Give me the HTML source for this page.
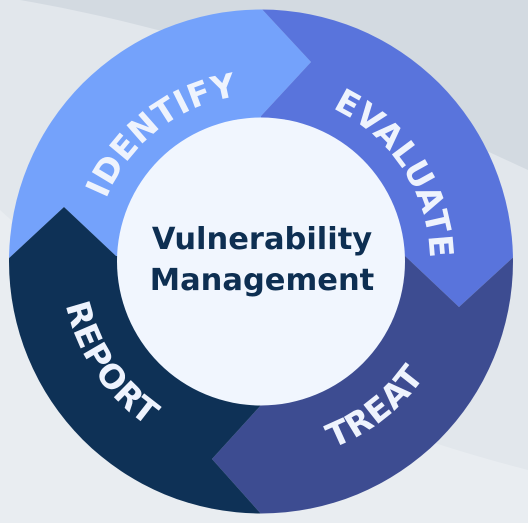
<!DOCTYPE html>
<html><head><meta charset="utf-8"><style>
html,body{margin:0;padding:0;width:528px;height:523px;overflow:hidden;background:#e2e7ec}
svg{display:block;position:absolute;left:0;top:0}
.seg{font-family:"DejaVu Sans","Liberation Sans",sans-serif;font-weight:bold;font-size:33px;fill:#eef3fd;letter-spacing:0.5px}
.ctr{font-family:"DejaVu Sans","Liberation Sans",sans-serif;font-weight:bold;font-size:30.5px;fill:#0e2f52}
</style></head><body>
<svg id="d" width="528" height="523" viewBox="0 0 528 523">
<rect width="528" height="523" fill="#e2e7ec"/>
<path d="M0,0 L528,0 L528,170 C420,120 250,40 20,0 Z" fill="#d3dae1"/>
<path d="M0,210 C120,320 330,420 528,470 L528,523 L0,523 Z" fill="#e9edf1"/>
<defs><clipPath id="oc"><circle cx="261" cy="261.5" r="252"/></clipPath></defs>
<g clip-path="url(#oc)">
<polygon fill="#74a2fb" points="207,-50 311,62 261,116 261,262 116,256 64,207 -50,313 -50,-50"/>
<polygon fill="#5974dc" points="207,-50 311,62 261,116 261,262 404,255 459,307 580,196 580,-50"/>
<polygon fill="#3d4c91" points="580,196 459,307 404,255 261,262 262,404 212,459 320,580 580,580"/>
<polygon fill="#0e3156" points="-50,313 64,207 116,256 261,262 262,404 212,459 320,580 -50,580"/>
</g>
<circle cx="261" cy="261.5" r="144" fill="#f1f6fe"/>
<defs id="pd"></defs>
<g id="labels"></g>
<text class="ctr" x="262" y="249" text-anchor="middle">Vulnerability</text>
<text class="ctr" x="262" y="290" text-anchor="middle">Management</text>
</svg>
<script>
const labels=["IDENTIFY","EVALUATE","TREAT","REPORT"];
const angles=[-128,-33,52,146];
const radii=[167,169,200,200];
const clockwise=[true,true,false,false];
const ns="http://www.w3.org/2000/svg",cx=261,cy=261.5;
const defs=document.getElementById('pd'),g=document.getElementById('labels');
function pt(r,a){a=a*Math.PI/180;return [cx+r*Math.cos(a),cy+r*Math.sin(a)];}
labels.forEach((t,i)=>{
  const r=radii[i],a=angles[i],cw=clockwise[i];
  const s=pt(r,cw?a-90:a+90),e=pt(r,cw?a+90:a-90);
  const p=document.createElementNS(ns,'path');
  p.setAttribute('id','p'+i);
  p.setAttribute('d',`M${s[0]},${s[1]} A${r},${r} 0 0 ${cw?1:0} ${e[0]},${e[1]}`);
  defs.appendChild(p);
  const tx=document.createElementNS(ns,'text');
  tx.setAttribute('class','seg');
  
  
  const tp=document.createElementNS(ns,'textPath');
  tp.setAttribute('href','#p'+i);
  tp.setAttribute('startOffset','50%');
  tp.setAttribute('text-anchor','middle');
  tp.textContent=t;
  tx.appendChild(tp);g.appendChild(tx);
});
</script>
</body></html>
